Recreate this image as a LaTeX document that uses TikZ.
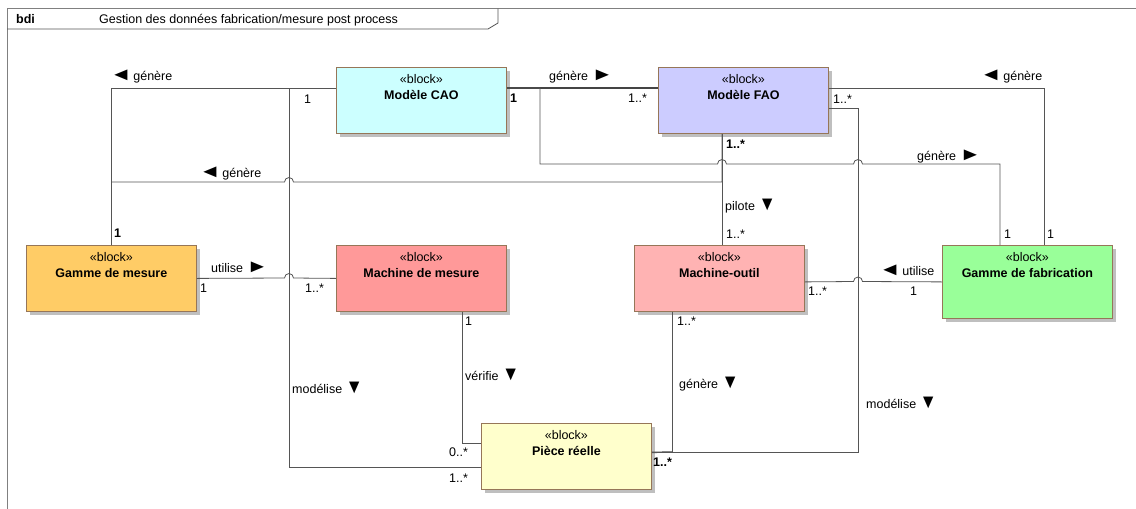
\documentclass[tikz,border=0pt]{standalone}
\usepackage{fontspec}
\usepackage{graphicx}
\setmainfont{Liberation Sans}
\usetikzlibrary{shadows}

\definecolor{caocol}{HTML}{CCFFFF}
\definecolor{faocol}{HTML}{CCCCFF}
\definecolor{gmcol}{HTML}{FFCC66}
\definecolor{mmcol}{HTML}{FF9999}
\definecolor{mocol}{HTML}{FFB3B3}
\definecolor{gfcol}{HTML}{99FF99}
\definecolor{prcol}{HTML}{FFFFCC}
\definecolor{brd}{RGB}{150,118,88}
\definecolor{shd}{HTML}{BFBFBF}
\definecolor{ln}{HTML}{555555}
\definecolor{frm}{HTML}{808080}

% fleches de sens de lecture
\newcommand{\fld}{\scalebox{1.75}[1.45]{►}}
\newcommand{\flg}{\scalebox{1.75}[1.45]{◄}\kern1.5pt}
\newcommand{\flb}{\scalebox{1.4}[1.6]{▼}}

\begin{document}
\begin{tikzpicture}[x=1pt,y=-1pt,
  font=\fontsize{12.5}{16}\selectfont,
  block/.style={draw=brd, line width=0.8pt, anchor=north west,
    minimum width=170pt, minimum height=66pt, inner sep=0pt,
    general shadow={fill=shd, shadow xshift=4pt, shadow yshift=-4pt}},
  head/.style={anchor=north, align=center, inner sep=0pt, yshift=-7.5pt},
  lbl/.style={anchor=west, inner sep=0pt, text height=9.5pt, text depth=3pt},
  gras/.style={lbl, font=\fontsize{12.5}{16}\selectfont\bfseries},
  assoc/.style={draw=ln, line width=0.8pt},
  heavy/.style={draw=ln!80!black, line width=1.8pt}]
  \useasboundingbox (0,0) rectangle (1136,509);

  % cadre bdi
  \draw[frm, line width=0.8pt] (7,509) -- (7,8.5) -- (1136,8.5);
  \draw[ln, line width=0.8pt] (7,29) -- (488,29) -- (498,23) -- (498,8.5);
  \node[gras] (bdi) at (16,20) {bdi};
  \node[lbl] (titre) at (99,20) {Gestion des données fabrication/mesure post process};

  % blocs
  \node[block, fill=caocol] (cao) at (336,67) {};
  \node[head] (caot) at (cao.north) {«block»\\\textbf{Modèle CAO}};
  \node[block, fill=faocol] (fao) at (658,67) {};
  \node[head] (faot) at (fao.north) {«block»\\\textbf{Modèle FAO}};
  \node[block, fill=gmcol] (gm) at (26,245) {};
  \node[head] (gmt) at (gm.north) {«block»\\\textbf{Gamme de mesure}};
  \node[block, fill=mmcol] (mm) at (336,245) {};
  \node[head] (mmt) at (mm.north) {«block»\\\textbf{Machine de mesure}};
  \node[block, fill=mocol] (mo) at (634,245) {};
  \node[head] (mot) at (mo.north) {«block»\\\textbf{Machine-outil}};
  \node[block, fill=gfcol, minimum height=73pt] (gf) at (942,245) {};
  \node[head] (gft) at (gf.north) {«block»\\\textbf{Gamme de fabrication}};
  \node[block, fill=prcol] (pr) at (481,423) {};
  \node[head] (prt) at (pr.north) {«block»\\\textbf{Pièce réelle}};

  % associations
  \draw[assoc] (gm.north) |- ([yshift=-21pt]cao.north west);
  \draw[assoc] ([yshift=-21pt]cao.north west) -- (289,88) |- ([yshift=-44pt]pr.north west);
  \draw[assoc] (gm.north) |- (284.5,182) arc[start angle=180, end angle=0, radius=4.5pt]
    -| ([xshift=64pt]fao.south west);
  \draw[assoc] ([xshift=64pt]fao.south west) -- ([xshift=88pt]mo.north west);
  \draw[heavy] ([yshift=-21pt]cao.north east) -- ([yshift=-21pt]fao.north west);
  \draw[assoc] ([yshift=-21pt]cao.north east) -- (540,88) |- (717.5,164)
    arc[start angle=180, end angle=0, radius=4.5pt] -- (853.5,164)
    arc[start angle=180, end angle=0, radius=4.5pt] -| ([xshift=58pt]gf.north west);
  \draw[assoc] ([yshift=-21pt]fao.north east) -| ([xshift=102pt]gf.north west);
  \draw[assoc] ([yshift=-41pt]fao.north east) -- (858,108) |- ([yshift=4pt]pr.east);
  \draw[heavy, line width=1.4pt] ([yshift=4pt]pr.east) -- (672,452);
  \draw[assoc] ([xshift=38pt]mo.south west) |- ([yshift=4pt]pr.east);
  \draw[assoc] (mo.east |- gf.west) -- (853.5,281.5)
    arc[start angle=180, end angle=0, radius=4.5pt] -- (gf.west);
  \draw[assoc] (gm.east) -- (284.5,278) arc[start angle=180, end angle=0, radius=4.5pt] -- (mm.west);
  \draw[assoc] ([xshift=126pt]mm.south west) |- ([yshift=-20pt]pr.north west);

  % libelles
  \node[lbl] (gen1) at (110,77) {\flg génère};
  \node[lbl] (gen2) at (549,77) {génère \fld};
  \node[lbl] (gen3) at (980,77) {\flg génère};
  \node[lbl] (gen4) at (917,157) {génère \fld};
  \node[lbl] (gen5) at (199,174) {\flg génère};
  \node[lbl] (pil) at (725,207) {pilote \flb};
  \node[lbl] (uti1) at (211,269) {utilise \fld};
  \node[lbl] (uti2) at (879,272) {\flg utilise};
  \node[lbl] (ver) at (465,377) {vérifie \flb};
  \node[lbl] (gen6) at (679,385) {génère \flb};
  \node[lbl] (mod1) at (292,390) {modélise \flb};
  \node[lbl] (mod2) at (866,405) {modélise \flb};

  % multiplicites
  \node[lbl] (m1) at (304,100) {1};
  \node[gras] (m2) at (510,99) {1};
  \node[lbl] (m3) at (628,99) {1..*};
  \node[lbl] (m4) at (833,100) {1..*};
  \node[gras] (m5) at (726,145) {1..*};
  \node[lbl] (m6) at (726,235) {1..*};
  \node[gras] (m7) at (114,234) {1};
  \node[lbl] (m8) at (1004,235) {1};
  \node[lbl] (m9) at (1047,235) {1};
  \node[lbl] (m10) at (200,289) {1};
  \node[lbl] (m11) at (305,289) {1..*};
  \node[lbl] (m12) at (808,292) {1..*};
  \node[lbl] (m13) at (910,292) {1};
  \node[lbl] (m14) at (465,322) {1};
  \node[lbl] (m15) at (677,322) {1..*};
  \node[lbl] (m16) at (449,453) {0..*};
  \node[lbl] (m17) at (449,479) {1..*};
  \node[gras] (m18) at (653,463) {1..*};
\end{tikzpicture}
\end{document}
